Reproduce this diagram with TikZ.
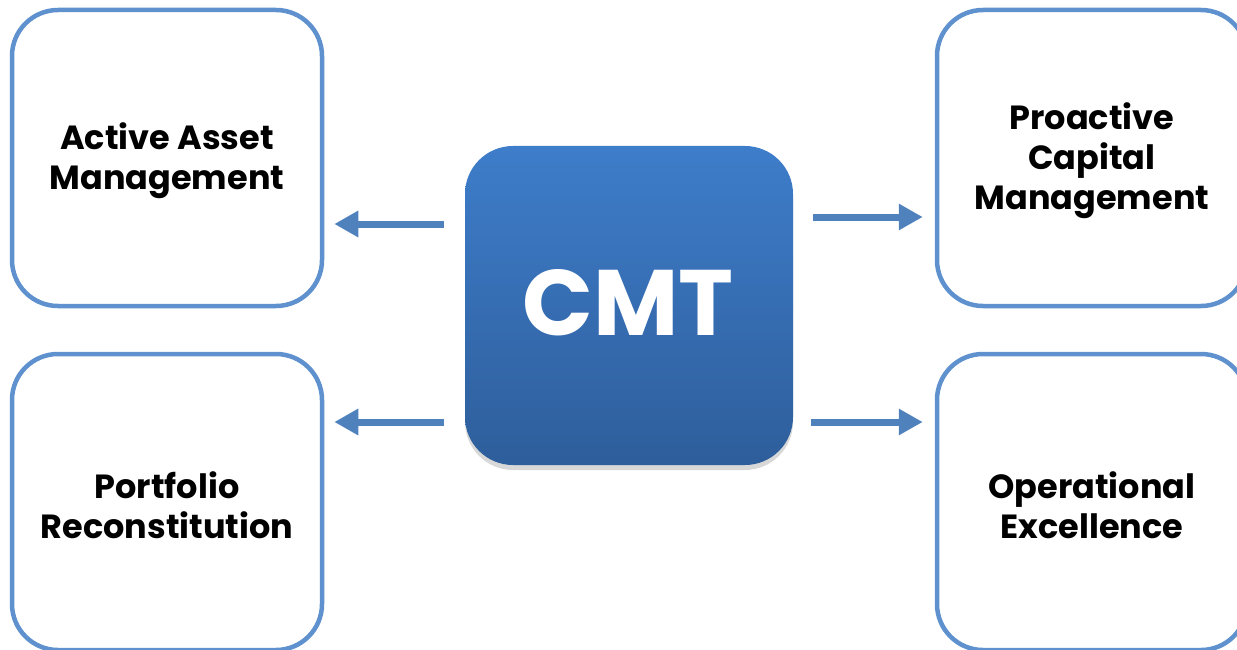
\documentclass[tikz,border=0pt]{standalone}
\usepackage{fontspec}
\setmainfont{Poppins}
\usetikzlibrary{arrows.meta,shadows,calc}
\definecolor{boxline}{RGB}{95,145,206}
\definecolor{arrowc}{RGB}{79,129,189}
\definecolor{cmttop}{RGB}{62,125,202}
\definecolor{cmtbot}{RGB}{46,94,155}
\tikzset{
  outerbox/.style={draw=boxline, line width=4.5pt, rounded corners=46pt, minimum width=310pt, minimum height=296pt, inner sep=0pt, fill=white, align=center, font=\fontsize{33.5}{40}\selectfont\bfseries},
  cmtbox/.style={rounded corners=48pt, minimum width=328pt, minimum height=319pt, inner sep=0pt, top color=cmttop, bottom color=cmtbot, draw=none, text=white, font=\fontsize{93}{100}\selectfont\bfseries, drop shadow={shadow xshift=0pt, shadow yshift=-5pt, opacity=0.3}},
  arr/.style={draw=arrowc, line width=7pt, -{Triangle[length=24pt,width=25pt]}}
}
\begin{document}
\begin{tikzpicture}[x=1pt,y=-1pt]
\clip (0,0) rectangle (1237,650);
\fill[white] (0,0) rectangle (1237,650);
\node[outerbox] (aam) at (167,158) {};
\node[outerbox] (pr) at (167,502) {};
\node[outerbox] (pcm) at (1092,158) {};
\node[outerbox] (oe) at (1092,502) {};
\node[align=center, font=\fontsize{33.5}{40}\selectfont\bfseries] (aamt) at (167,161) {Active Asset\\Management};
\node[align=center, font=\fontsize{33.5}{40}\selectfont\bfseries] (prt) at (167,505) {Portfolio\\Reconstitution};
\node[align=center, font=\fontsize{33.5}{40}\selectfont\bfseries] (pcmt) at (1092,161) {Proactive\\Capital\\Management};
\node[align=center, font=\fontsize{33.5}{40}\selectfont\bfseries] (oet) at (1092,505) {Operational\\Excellence};
\node[cmtbox] (cmt) at (629,305.5) {};
\node[text=white, font=\fontsize{93}{100}\selectfont\bfseries] (cmtt) at (628,303) {CMT};
\draw[arr] ($(cmt.west)+(-21,-81.5)$) -- ($(aam.east)+(10,66)$);
\draw[arr] ($(cmt.west)+(-21,116.5)$) -- ($(pr.east)+(10,-80)$);
\draw[arr] ($(cmt.east)+(20,-88.5)$) -- ($(pcm.west)+(-12,59)$);
\draw[arr] ($(cmt.east)+(18,116.5)$) -- ($(oe.west)+(-12,-80)$);
\end{tikzpicture}
\end{document}
